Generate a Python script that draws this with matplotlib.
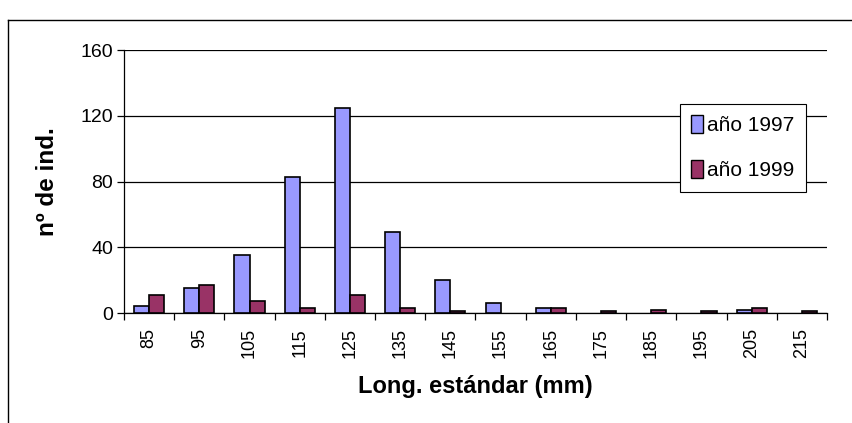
import matplotlib
matplotlib.use("Agg")
import matplotlib.pyplot as plt
import numpy as np
from matplotlib.lines import Line2D
from matplotlib.patches import Patch

plt.rcParams['font.family'] = ['Liberation Sans', 'DejaVu Sans']

# Length classes (mm) and counts per year
clases = ["85", "95", "105", "115", "125", "135", "145", "155",
          "165", "175", "185", "195", "205", "215"]
anio_1997 = [4, 15, 35, 83, 125, 49, 20, 6, 3, 0, 0, 0, 2, 0]
anio_1999 = [11, 17, 7, 3, 11, 3, 1, 0, 3, 1, 2, 1, 3, 1]
y_ticks = [0, 40, 80, 120, 160]

color_97 = "#9999FF"
color_99 = "#993366"

W, H = 853, 423
fig = plt.figure(figsize=(W / 100, H / 100), dpi=100)
ax_l, ax_r, ax_t, ax_b = 124, 827, 50, 313
ax = fig.add_axes([ax_l / W, 1 - ax_b / H, (ax_r - ax_l) / W, (ax_b - ax_t) / H])

x = np.arange(len(clases))
bw = 0.3


def edge_widths(vals):
    return [1.2 if v > 0 else 0 for v in vals]


ax.bar(x - bw / 2, anio_1997, width=bw, color=color_97,
       edgecolor="black", linewidth=edge_widths(anio_1997), zorder=3)
ax.bar(x + bw / 2, anio_1999, width=bw, color=color_99,
       edgecolor="black", linewidth=edge_widths(anio_1999), zorder=3)

ax.set_xlim(-0.5, len(clases) - 0.5)
ax.set_ylim(0, 160)
ax.set_yticks(y_ticks)
ax.set_yticklabels([str(v) for v in y_ticks], fontsize=14)
ax.yaxis.grid(True, color="black", linewidth=0.9, zorder=0)
ax.set_axisbelow(True)

ax.set_xticks(x)
ax.set_xticklabels(clases, rotation=90, fontsize=13)
ax.set_xticks(np.arange(-0.5, len(clases)), minor=True)
ax.tick_params(axis="x", which="major", length=0, pad=11)
ax.tick_params(axis="x", which="minor", length=5, width=0.9, direction="out")
ax.tick_params(axis="y", length=5, width=0.9, direction="out", pad=3)

for s in ("top", "right"):
    ax.spines[s].set_visible(False)
for s in ("left", "bottom"):
    ax.spines[s].set_linewidth(0.9)

ax.set_ylabel("nº de ind.", fontsize=17.5, fontweight="bold", va="center")
ax.yaxis.set_label_coords((48 - ax_l) / (ax_r - ax_l), 0.5)
ax.set_xlabel("Long. estándar (mm)", fontsize=17, fontweight="bold", va="center")
ax.xaxis.set_label_coords(0.5, (ax_b - 387) / (ax_b - ax_t))

handles = [Patch(facecolor=color_97, edgecolor="black", linewidth=1),
           Patch(facecolor=color_99, edgecolor="black", linewidth=1)]
leg = ax.legend(handles, ["año 1997", "año 1999"], loc="upper left",
                bbox_to_anchor=((680 - ax_l) / (ax_r - ax_l), (ax_b - 104) / (ax_b - ax_t)),
                fontsize=15, frameon=True, fancybox=False, framealpha=1,
                edgecolor="black", handlelength=0.55, handleheight=0.9,
                handletextpad=0.2, labelspacing=1.2, borderpad=0.55,
                borderaxespad=0)
leg.get_frame().set_linewidth(0.8)

# Outer chart-area border
fig.add_artist(Line2D([8 / W, 8 / W], [0, 1 - 20 / H], color="black", linewidth=1))
fig.add_artist(Line2D([8 / W, 1], [1 - 20 / H, 1 - 20 / H], color="black", linewidth=1))

fig.savefig("out.png", dpi=100)
